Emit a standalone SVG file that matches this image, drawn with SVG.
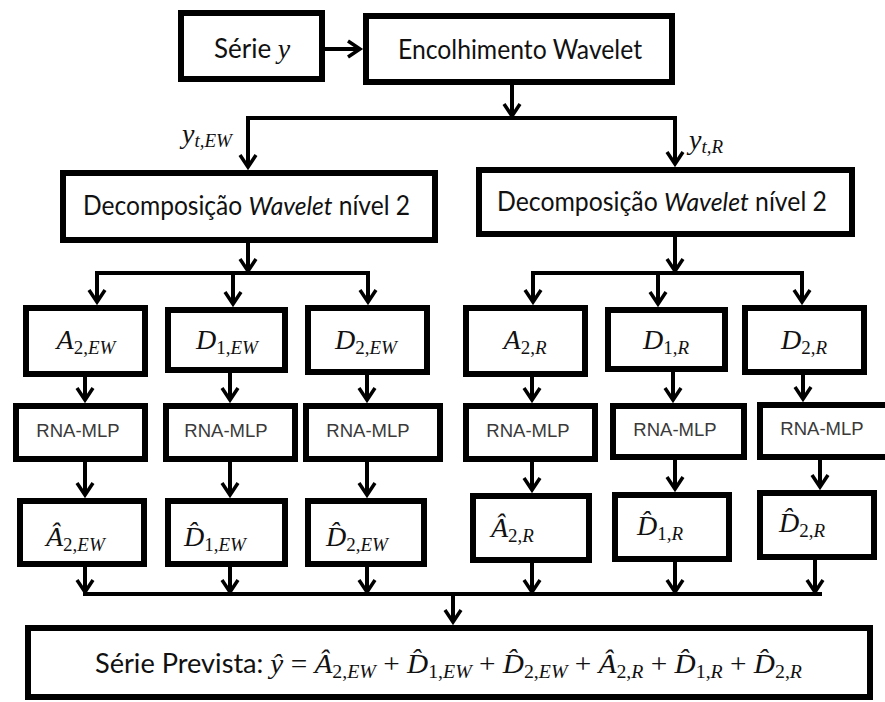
<svg xmlns="http://www.w3.org/2000/svg" width="885" height="702" viewBox="0 0 885 702">
<style>
.box{fill:#fff;stroke:#000;stroke-width:6}
.conn{stroke:#000;stroke-width:4;fill:none}
.arr{marker-end:url(#ah)}
.sans{font-family:Lato,"Open Sans","Liberation Sans",sans-serif;font-size:26px;fill:#111}
.m{font-family:"Liberation Serif","DejaVu Serif",serif;font-style:italic;font-size:28px;fill:#111}
.s{font-size:19px}
.up{font-style:normal}
.rna{font-family:"Liberation Sans",Arial,sans-serif;font-size:18.5px;fill:#3a3a3a}
</style>
<defs>
<marker id="ah" markerUnits="userSpaceOnUse" markerWidth="24" markerHeight="24" viewBox="-14 -12 18 24" refX="0" refY="0" orient="auto">
<path d="M-12,-8 L0,0 L-12,8" fill="none" stroke="#000" stroke-width="3.5"/>
</marker>
</defs>
<rect width="885" height="702" fill="#fff"/>

<g id="connectors">
<path class="conn arr" d="M325,49 H360"/>
<path class="conn arr" d="M512,85 V116"/>
<path class="conn" d="M246,118 H677"/>
<path class="conn arr" d="M248,118 V167"/>
<path class="conn arr" d="M675,118 V164"/>
<path class="conn arr" d="M248,243 V271"/>
<path class="conn" d="M95,273 H370"/>
<path class="conn arr" d="M97,273 V302"/>
<path class="conn arr" d="M233,273 V304"/>
<path class="conn arr" d="M368,273 V302"/>
<path class="conn arr" d="M675,237 V271"/>
<path class="conn" d="M531,273 H804"/>
<path class="conn arr" d="M533,273 V302"/>
<path class="conn arr" d="M658,273 V304"/>
<path class="conn arr" d="M802,273 V302"/>
<path class="conn arr" d="M85,377 V400"/>
<path class="conn arr" d="M230,373 V400"/>
<path class="conn arr" d="M367,375 V400"/>
<path class="conn arr" d="M532,377 V400"/>
<path class="conn arr" d="M673,372 V400"/>
<path class="conn arr" d="M803,375 V399"/>
<path class="conn arr" d="M85,462 V495"/>
<path class="conn arr" d="M230,462 V495"/>
<path class="conn arr" d="M367,462 V495"/>
<path class="conn arr" d="M532,462 V490"/>
<path class="conn arr" d="M675,460 V489"/>
<path class="conn arr" d="M820,460 V487"/>
<path class="conn arr" d="M85,567 V592"/>
<path class="conn arr" d="M230,567 V592"/>
<path class="conn arr" d="M367,567 V592"/>
<path class="conn arr" d="M532,563 V592"/>
<path class="conn arr" d="M675,562 V592"/>
<path class="conn arr" d="M815,560 V592"/>
<path class="conn" d="M83,594 H822"/>
<path class="conn arr" d="M453,594 V622"/>
</g>

<g id="lbl-ytEW">
<text x="182" y="143" class="m" font-size="30">y<tspan class="s" dy="4">t,EW</tspan></text>
</g>
<g id="lbl-ytR">
<text x="689" y="149" class="m" font-size="30">y<tspan class="s" dy="4">t,</tspan><tspan class="s">R</tspan></text>
</g>

<g id="serie">
<rect class="box" x="181" y="13" width="141" height="66"/>
<text x="214" y="58" class="sans">Série <tspan class="m" font-size="29">y</tspan></text>
</g>
<g id="encolhimento">
<rect class="box" x="366" y="16" width="306" height="66"/>
<text x="398" y="59" class="sans" textLength="244" lengthAdjust="spacingAndGlyphs">Encolhimento Wavelet</text>
</g>
<g id="decomp-ew">
<rect class="box" x="63" y="173" width="372" height="67"/>
<text x="83" y="215" class="sans" textLength="327" lengthAdjust="spacingAndGlyphs">Decomposição <tspan font-style="italic">Wavelet</tspan> nível 2</text>
</g>
<g id="decomp-r">
<rect class="box" x="479" y="170" width="373" height="64"/>
<text x="497" y="211" class="sans" textLength="330" lengthAdjust="spacingAndGlyphs">Decomposição <tspan font-style="italic">Wavelet</tspan> nível 2</text>
</g>

<g id="a2ew">
<rect class="box" x="26" y="308" width="119" height="66"/>
<text x="86" y="349" class="m" text-anchor="middle">A<tspan class="s up" dy="5">2,</tspan><tspan class="s">EW</tspan></text>
</g>
<g id="d1ew">
<rect class="box" x="168" y="310" width="117" height="60"/>
<text x="227" y="349" class="m" text-anchor="middle">D<tspan class="s up" dy="5">1,</tspan><tspan class="s">EW</tspan></text>
</g>
<g id="d2ew">
<rect class="box" x="308" y="308" width="119" height="64"/>
<text x="366" y="349" class="m" text-anchor="middle">D<tspan class="s up" dy="5">2,</tspan><tspan class="s">EW</tspan></text>
</g>
<g id="a2r">
<rect class="box" x="466" y="308" width="119" height="66"/>
<text x="525" y="349" class="m" text-anchor="middle">A<tspan class="s up" dy="5">2,</tspan><tspan class="s">R</tspan></text>
</g>
<g id="d1r">
<rect class="box" x="608" y="310" width="117" height="59"/>
<text x="666" y="349" class="m" text-anchor="middle">D<tspan class="s up" dy="5">1,</tspan><tspan class="s">R</tspan></text>
</g>
<g id="d2r">
<rect class="box" x="745" y="308" width="119" height="64"/>
<text x="804" y="349" class="m" text-anchor="middle">D<tspan class="s up" dy="5">2,</tspan><tspan class="s">R</tspan></text>
</g>

<g id="rna1"><rect class="box" x="16" y="406" width="129" height="53"/><text x="78" y="437" class="rna" text-anchor="middle">RNA-MLP</text></g>
<g id="rna2"><rect class="box" x="166" y="406" width="129" height="53"/><text x="226" y="437" class="rna" text-anchor="middle">RNA-MLP</text></g>
<g id="rna3"><rect class="box" x="306" y="406" width="134" height="53"/><text x="368" y="437" class="rna" text-anchor="middle">RNA-MLP</text></g>
<g id="rna4"><rect class="box" x="466" y="406" width="129" height="53"/><text x="528" y="437" class="rna" text-anchor="middle">RNA-MLP</text></g>
<g id="rna5"><rect class="box" x="613" y="406" width="131" height="51"/><text x="675" y="436" class="rna" text-anchor="middle">RNA-MLP</text></g>
<g id="rna6"><rect class="box" x="760" y="405" width="130" height="52"/><text x="822" y="435" class="rna" text-anchor="middle">RNA-MLP</text></g>

<g id="a2ew-hat">
<rect class="box" x="20" y="501" width="124" height="63"/>
<text x="46" y="546" class="m">Â<tspan class="s up" dy="5">2,</tspan><tspan class="s">EW</tspan></text>
</g>
<g id="d1ew-hat">
<rect class="box" x="168" y="501" width="117" height="63"/>
<text x="184" y="546" class="m">D̂<tspan class="s up" dy="5">1,</tspan><tspan class="s">EW</tspan></text>
</g>
<g id="d2ew-hat">
<rect class="box" x="308" y="501" width="116" height="63"/>
<text x="326" y="546" class="m">D̂<tspan class="s up" dy="5">2,</tspan><tspan class="s">EW</tspan></text>
</g>
<g id="a2r-hat">
<rect class="box" x="473" y="496" width="116" height="64"/>
<text x="491" y="537" class="m">Â<tspan class="s up" dy="5">2,</tspan><tspan class="s">R</tspan></text>
</g>
<g id="d1r-hat">
<rect class="box" x="615" y="495" width="114" height="64"/>
<text x="637" y="535" class="m">D̂<tspan class="s up" dy="5">1,</tspan><tspan class="s">R</tspan></text>
</g>
<g id="d2r-hat">
<rect class="box" x="760" y="493" width="114" height="64"/>
<text x="779" y="532" class="m">D̂<tspan class="s up" dy="5">2,</tspan><tspan class="s">R</tspan></text>
</g>

<g id="serie-prevista">
<rect class="box" x="28" y="628" width="842" height="69"/>
<text x="95" y="673" textLength="707" lengthAdjust="spacingAndGlyphs"><tspan class="sans" font-size="27">Série Prevista: </tspan><tspan class="m">ŷ</tspan><tspan class="m up"> = </tspan><tspan class="m">Â</tspan><tspan class="m s up" dy="5">2,</tspan><tspan class="m s">EW</tspan><tspan class="m up" dy="-5"> + </tspan><tspan class="m">D̂</tspan><tspan class="m s up" dy="5">1,</tspan><tspan class="m s">EW</tspan><tspan class="m up" dy="-5"> + </tspan><tspan class="m">D̂</tspan><tspan class="m s up" dy="5">2,</tspan><tspan class="m s">EW</tspan><tspan class="m up" dy="-5"> + </tspan><tspan class="m">Â</tspan><tspan class="m s up" dy="5">2,</tspan><tspan class="m s">R</tspan><tspan class="m up" dy="-5"> + </tspan><tspan class="m">D̂</tspan><tspan class="m s up" dy="5">1,</tspan><tspan class="m s">R</tspan><tspan class="m up" dy="-5"> + </tspan><tspan class="m">D̂</tspan><tspan class="m s up" dy="5">2,</tspan><tspan class="m s">R</tspan></text>
</g>
</svg>
